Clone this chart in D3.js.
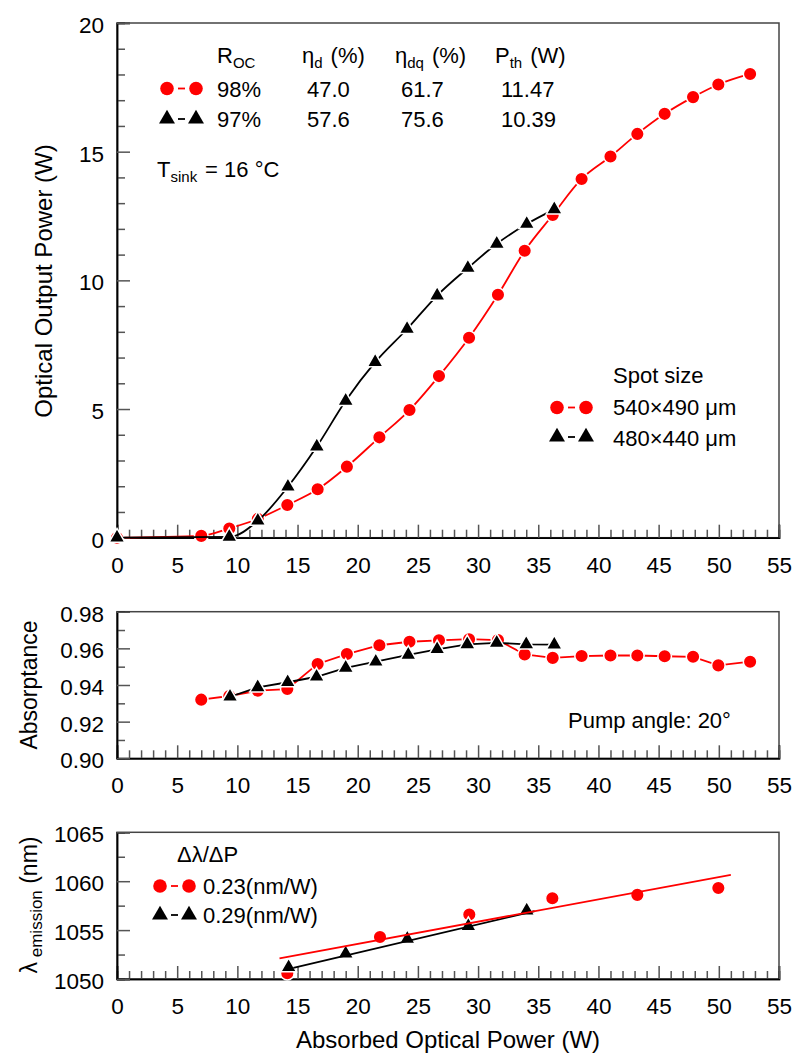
<!DOCTYPE html>
<html>
<head>
<meta charset="utf-8">
<script src="https://cdn.jsdelivr.net/npm/d3@7"></script>
<style>
body { margin: 0; background: #fff; }
svg text { font-family: "Liberation Sans", Arial, sans-serif; fill: #000; }
</style>
</head>
<body>
<div id="chart"></div>
<script>
// shared x axis: absorbed optical power (W)
const xTicks = [0, 5, 10, 15, 20, 25, 30, 35, 40, 45, 50, 55];

// top panel: output power, R_OC 98% (circles) / 97% (triangles)
const redPumpTop = [0, 7.0, 9.33, 11.7, 14.15, 16.67, 19.1, 21.8, 24.3, 26.75, 29.25, 31.65, 33.87, 36.2, 38.6, 41.0, 43.23, 45.5, 47.86, 49.96, 52.6];
const redOutput  = [0, 0.07, 0.36, 0.73, 1.27, 1.88, 2.76, 3.9, 4.96, 6.28, 7.77, 9.44, 11.15, 12.54, 13.94, 14.81, 15.69, 16.47, 17.12, 17.61, 18.02];
const blackPumpTop = [0, 9.33, 11.7, 14.2, 16.6, 19.0, 21.45, 24.1, 26.6, 29.15, 31.55, 34.04, 36.33];
const blackOutput  = [0, 0.03, 0.66, 1.98, 3.54, 5.32, 6.82, 8.11, 9.41, 10.48, 11.42, 12.19, 12.76];
const topYTicks = [0, 5, 10, 15, 20];

// middle panel: absorptance
const redPumpMid = [7.0, 9.33, 11.7, 14.15, 16.67, 19.1, 21.8, 24.3, 26.75, 29.25, 31.65, 33.87, 36.2, 38.6, 41.0, 43.23, 45.5, 47.86, 49.96, 52.6];
const redAbs = [0.932, 0.934, 0.9369, 0.9378, 0.9515, 0.9569, 0.9617, 0.9636, 0.9644, 0.9650, 0.9645, 0.9567, 0.9548, 0.9558, 0.9561, 0.9561, 0.9557, 0.9554, 0.9507, 0.9527];
const blackPumpMid = [9.39, 11.69, 14.18, 16.58, 19.0, 21.5, 24.2, 26.6, 29.1, 31.55, 34.0, 36.33];
const blackAbs = [0.9336, 0.9387, 0.9415, 0.9445, 0.9494, 0.9527, 0.9564, 0.9595, 0.9622, 0.9630, 0.9622, 0.9620];
const midYTicks = [0.90, 0.92, 0.94, 0.96, 0.98];

// bottom panel: emission wavelength + linear fits
const redPumpBot = [14.15, 21.85, 29.27, 36.17, 43.23, 49.96];
const redLambda = [1050.6, 1054.3, 1056.6, 1058.25, 1058.6, 1059.3];
const blackPumpBot = [14.26, 19.0, 24.12, 29.19, 34.04];
const blackLambda = [1051.2, 1052.6, 1054.1, 1055.4, 1057.0];
const redFit = [[13.5, 1052.1], [51.0, 1060.65]];
const blackFit = [[14.65, 1051.15], [34.7, 1056.95]];
const botYTicks = [1050, 1055, 1060, 1065];

const svg = d3.select("#chart").append("svg")
    .attr("width", 794)
    .attr("height", 1055);

const x = d3.scaleLinear().domain([0, 55]).range([117, 779]);
const yTop = d3.scaleLinear().domain([0, 20]).range([537.7, 23]);
const yMid = d3.scaleLinear().domain([0.90, 0.98]).range([758.3, 611.7]);
const yBot = d3.scaleLinear().domain([1050, 1065]).range([979, 832.3]);

const xMinor = d3.range(0, 56, 1).filter(v => v % 5 !== 0);

function styleAxis(g) {
    g.attr("font-size", 22.5).attr("font-family", null);
    g.select(".domain").attr("stroke", "#000").attr("stroke-width", 1.5);
    g.selectAll(".tick line").attr("stroke", "#555").attr("stroke-width", 1.5);
}

function drawFrame(y, yTicks, yMinor, fmt) {
    let y0 = y.range()[0], y1 = y.range()[1];

    svg.append("rect")
        .attr("x", 117).attr("y", y1)
        .attr("width", 662).attr("height", y0 - y1)
        .attr("fill", "none")
        .attr("stroke", "#444")
        .attr("stroke-width", 1.5);

    // x axis, ticks point inward
    let gxm = svg.append("g").attr("transform", "translate(0," + y0 + ")")
        .call(d3.axisBottom(x).tickValues(xMinor).tickSize(-8).tickFormat(""));
    styleAxis(gxm);
    let gx = svg.append("g").attr("transform", "translate(0," + y0 + ")")
        .call(d3.axisBottom(x).tickValues(xTicks).tickSize(-13).tickPadding(19).tickFormat(d3.format("d")));
    styleAxis(gx);

    // y axis
    let gym = svg.append("g").attr("transform", "translate(117,0)")
        .call(d3.axisLeft(y).tickValues(yMinor).tickSize(-8).tickFormat(""));
    styleAxis(gym);
    let gy = svg.append("g").attr("transform", "translate(117,0)")
        .call(d3.axisLeft(y).tickValues(yTicks).tickSize(-13).tickPadding(13).tickFormat(fmt));
    styleAxis(gy);
    gy.selectAll(".tick text").attr("dy", "0.42em");
}

drawFrame(yTop, topYTicks, d3.range(1, 20, 1).filter(v => v % 5 !== 0), d3.format("d"));
drawFrame(yMid, midYTicks, [0.91, 0.93, 0.95, 0.97], d3.format(".2f"));
drawFrame(yBot, botYTicks, [1052.5, 1057.5, 1062.5], d3.format("d"));

// marker helpers
function circles(data, y) {
    svg.append("g").selectAll("circle")
        .data(data)
        .join("circle")
        .attr("cx", d => x(d[0]))
        .attr("cy", d => y(d[1]))
        .attr("r", 6.8)
        .attr("fill", "#ff0000")
        .attr("stroke", "#fff")
        .attr("stroke-width", 1.5);
}

function triangles(data, y) {
    svg.append("g").selectAll("path")
        .data(data)
        .join("path")
        .attr("d", d3.symbol(d3.symbolTriangle, 110))
        .attr("transform", d => "translate(" + x(d[0]) + "," + y(d[1]) + ")")
        .attr("fill", "#000")
        .attr("stroke", "#fff")
        .attr("stroke-width", 1.5);
}

function curve(data, y, color, c) {
    svg.append("path")
        .datum(data)
        .attr("fill", "none")
        .attr("stroke", color)
        .attr("stroke-width", 1.8)
        .attr("d", d3.line().x(d => x(d[0])).y(d => y(d[1])).curve(c));
}

// top panel
const redTop = d3.zip(redPumpTop, redOutput);
const blackTop = d3.zip(blackPumpTop, blackOutput);
curve(redTop, yTop, "#ff0000", d3.curveMonotoneX);
circles(redTop, yTop);
curve(blackTop, yTop, "#000", d3.curveMonotoneX);
triangles(blackTop, yTop);

// middle panel
const redMid = d3.zip(redPumpMid, redAbs);
const blackMid = d3.zip(blackPumpMid, blackAbs);
curve(redMid, yMid, "#ff0000", d3.curveLinear);
circles(redMid, yMid);
curve(blackMid, yMid, "#000", d3.curveLinear);
triangles(blackMid, yMid);

// bottom panel
circles(d3.zip(redPumpBot, redLambda), yBot);
triangles(d3.zip(blackPumpBot, blackLambda), yBot);
curve(blackFit, yBot, "#000", d3.curveLinear);
curve(redFit, yBot, "#ff0000", d3.curveLinear);

// legend sample: marker - marker
function legendSample(cx, cy, kind) {
    let color = kind === "circle" ? "#ff0000" : "#000";
    svg.append("line")
        .attr("x1", cx + 11).attr("x2", cx + 18)
        .attr("y1", cy).attr("y2", cy)
        .attr("stroke", color).attr("stroke-width", 1.8);
    [cx, cx + 29].forEach(px => {
        if (kind === "circle") {
            svg.append("circle").attr("cx", px).attr("cy", cy).attr("r", 6.8).attr("fill", color);
        } else {
            svg.append("path").attr("d", d3.symbol(d3.symbolTriangle, 110))
                .attr("transform", "translate(" + px + "," + cy + ")").attr("fill", color);
        }
    });
}

function label(px, py, parts, size) {
    let t = svg.append("text").attr("x", px).attr("y", py).attr("font-size", size || 22);
    parts.forEach(p => {
        if (typeof p === "string") {
            t.append("tspan").text(p);
        } else {
            // subscript piece
            t.append("tspan").attr("font-size", 15).attr("dy", 5).text(p.sub);
            t.append("tspan").attr("dy", -5).text("\u200a");
        }
    });
    return t;
}

// top-left table legend
label(217, 63, ["R", {sub: "OC"}]);
label(302, 63, ["\u03b7", {sub: "d"}, " (%)"]);
label(395, 63, ["\u03b7", {sub: "dq"}, " (%)"]);
label(495, 63, ["P", {sub: "th"}, " (W)"]);
legendSample(167, 88.5, "circle");
label(217, 96.5, ["98%"]);
label(307, 96.5, ["47.0"]);
label(401, 96.5, ["61.7"]);
label(501, 96.5, ["11.47"]);
legendSample(167, 119, "triangle");
label(217, 127, ["97%"]);
label(307, 127, ["57.6"]);
label(401, 127, ["75.6"]);
label(501, 127, ["10.39"]);
label(157, 177, ["T", {sub: "sink"}, " = 16 \u00b0C"]);

// spot size legend
label(613, 383, ["Spot size"]);
legendSample(557, 407.5, "circle");
label(613, 415, ["540\u00d7490 \u03bcm"]);
legendSample(557, 437, "triangle");
label(613, 445.5, ["480\u00d7440 \u03bcm"]);

label(568, 728, ["Pump angle: 20\u00b0"]);

// bottom legend
label(177, 862, ["\u0394\u03bb/\u0394P"]);
legendSample(160, 886, "circle");
label(203, 894, ["0.23(nm/W)"]);
legendSample(160, 915, "triangle");
label(203, 923, ["0.29(nm/W)"]);

// axis titles
svg.append("text")
    .attr("transform", "translate(52,281) rotate(-90)")
    .attr("text-anchor", "middle")
    .attr("font-size", 24)
    .text("Optical Output Power (W)");

svg.append("text")
    .attr("transform", "translate(37,685) rotate(-90)")
    .attr("text-anchor", "middle")
    .attr("font-size", 23)
    .text("Absorptance");

let lt = svg.append("text")
    .attr("transform", "translate(37,905) rotate(-90)")
    .attr("text-anchor", "middle")
    .attr("font-size", 23);
lt.append("tspan").text("\u03bb");
lt.append("tspan").attr("font-size", 17).attr("dy", 5).text(" emission");
lt.append("tspan").attr("dy", -5).text(" (nm)");

svg.append("text")
    .attr("x", 448)
    .attr("y", 1048)
    .attr("text-anchor", "middle")
    .attr("font-size", 24)
    .text("Absorbed Optical Power (W)");
</script>
</body>
</html>
